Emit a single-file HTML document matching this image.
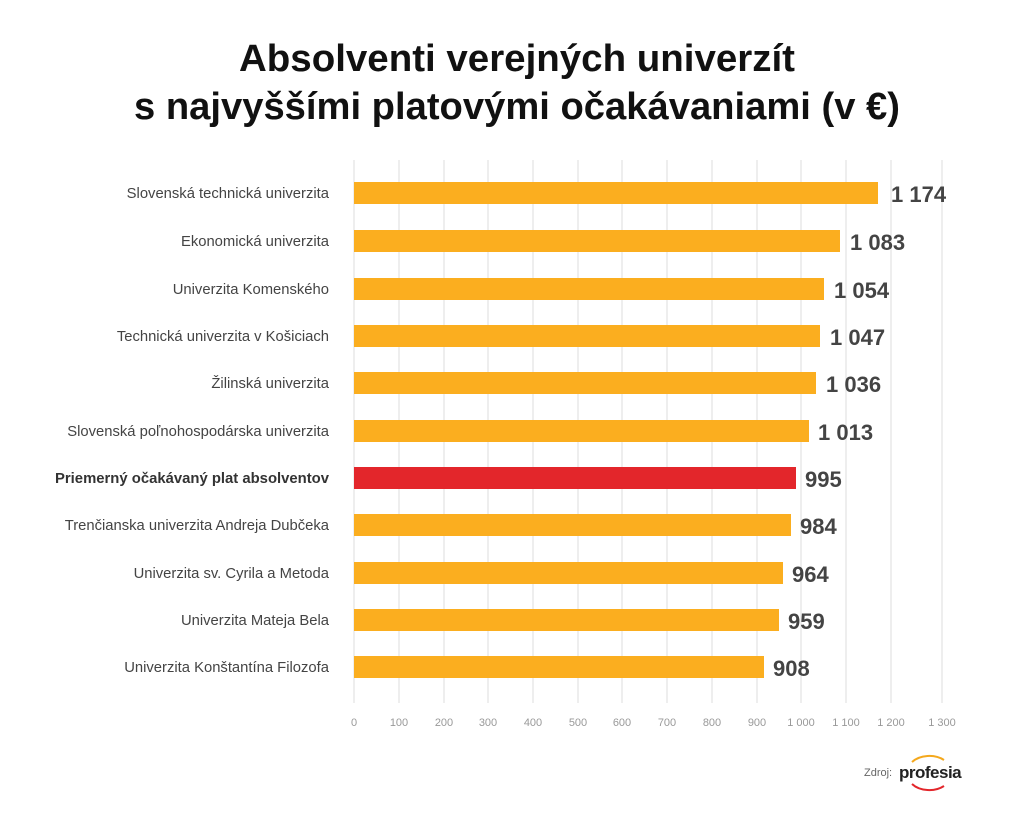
<!DOCTYPE html>
<html><head><meta charset="utf-8"><style>
body{margin:0;background:#fff;width:1024px;height:813px;overflow:hidden;font-family:"Liberation Sans",sans-serif;}
</style></head><body>
<svg width="1024" height="813" xmlns="http://www.w3.org/2000/svg" font-family="Liberation Sans, sans-serif">
<text x="517" y="71" text-anchor="middle" font-size="38" font-weight="bold" fill="#111" textLength="556" lengthAdjust="spacingAndGlyphs">Absolventi verejných univerzít</text>
<text x="517" y="119" text-anchor="middle" font-size="38" font-weight="bold" fill="#111" textLength="766" lengthAdjust="spacingAndGlyphs">s najvyššími platovými očakávaniami (v €)</text>
<g stroke="#dcdcdc" stroke-width="1">
<line x1="354" y1="160" x2="354" y2="703"/><line x1="399" y1="160" x2="399" y2="703"/><line x1="444" y1="160" x2="444" y2="703"/><line x1="488" y1="160" x2="488" y2="703"/><line x1="533" y1="160" x2="533" y2="703"/><line x1="578" y1="160" x2="578" y2="703"/><line x1="622" y1="160" x2="622" y2="703"/><line x1="667" y1="160" x2="667" y2="703"/><line x1="712" y1="160" x2="712" y2="703"/><line x1="757" y1="160" x2="757" y2="703"/><line x1="801" y1="160" x2="801" y2="703"/><line x1="846" y1="160" x2="846" y2="703"/><line x1="891" y1="160" x2="891" y2="703"/><line x1="942" y1="160" x2="942" y2="703"/>
</g>
<g font-size="11" fill="#999" text-anchor="middle">
<text x="354" y="726">0</text><text x="399" y="726">100</text><text x="444" y="726">200</text><text x="488" y="726">300</text><text x="533" y="726">400</text><text x="578" y="726">500</text><text x="622" y="726">600</text><text x="667" y="726">700</text><text x="712" y="726">800</text><text x="757" y="726">900</text><text x="801" y="726">1 000</text><text x="846" y="726">1 100</text><text x="891" y="726">1 200</text><text x="942" y="726">1 300</text>
</g>
<g font-size="14.8" fill="#444" text-anchor="end">
<text x="329" y="198">Slovenská technická univerzita</text>
<text x="329" y="246">Ekonomická univerzita</text>
<text x="329" y="294">Univerzita Komenského</text>
<text x="329" y="341">Technická univerzita v Košiciach</text>
<text x="329" y="388">Žilinská univerzita</text>
<text x="329" y="436">Slovenská poľnohospodárska univerzita</text>
<text x="329" y="483" font-weight="bold" fill="#333" textLength="274" lengthAdjust="spacingAndGlyphs">Priemerný očakávaný plat absolventov</text>
<text x="329" y="530">Trenčianska univerzita Andreja Dubčeka</text>
<text x="329" y="578">Univerzita sv. Cyrila a Metoda</text>
<text x="329" y="625">Univerzita Mateja Bela</text>
<text x="329" y="672">Univerzita Konštantína Filozofa</text>
</g>
<g fill="#fbae1f">
<rect x="354" y="182" width="524" height="22"/>
<rect x="354" y="230" width="486" height="22"/>
<rect x="354" y="278" width="470" height="22"/>
<rect x="354" y="325" width="466" height="22"/>
<rect x="354" y="372" width="462" height="22"/>
<rect x="354" y="420" width="455" height="22"/>
<rect x="354" y="467" width="442" height="22" fill="#e3262b"/>
<rect x="354" y="514" width="437" height="22"/>
<rect x="354" y="562" width="429" height="22"/>
<rect x="354" y="609" width="425" height="22"/>
<rect x="354" y="656" width="410" height="22"/>
</g>
<g font-size="22" font-weight="bold" fill="#444">
<text x="891" y="202">1 174</text>
<text x="850" y="250">1 083</text>
<text x="834" y="298">1 054</text>
<text x="830" y="345">1 047</text>
<text x="826" y="392">1 036</text>
<text x="818" y="440">1 013</text>
<text x="805" y="487">995</text>
<text x="800" y="534">984</text>
<text x="792" y="582">964</text>
<text x="788" y="629">959</text>
<text x="773" y="676">908</text>
</g>
<text x="864" y="776" font-size="11" fill="#666">Zdroj:</text>
<text x="899" y="778" font-size="17" font-weight="bold" fill="#222" letter-spacing="-0.5">profesia</text>
<path d="M912 762 A22 16 0 0 1 944 760" stroke="#f4a81d" stroke-width="2" fill="none"/>
<path d="M912 784 A22 16 0 0 0 944 786" stroke="#e3262b" stroke-width="2" fill="none"/>
</svg>
</body></html>
